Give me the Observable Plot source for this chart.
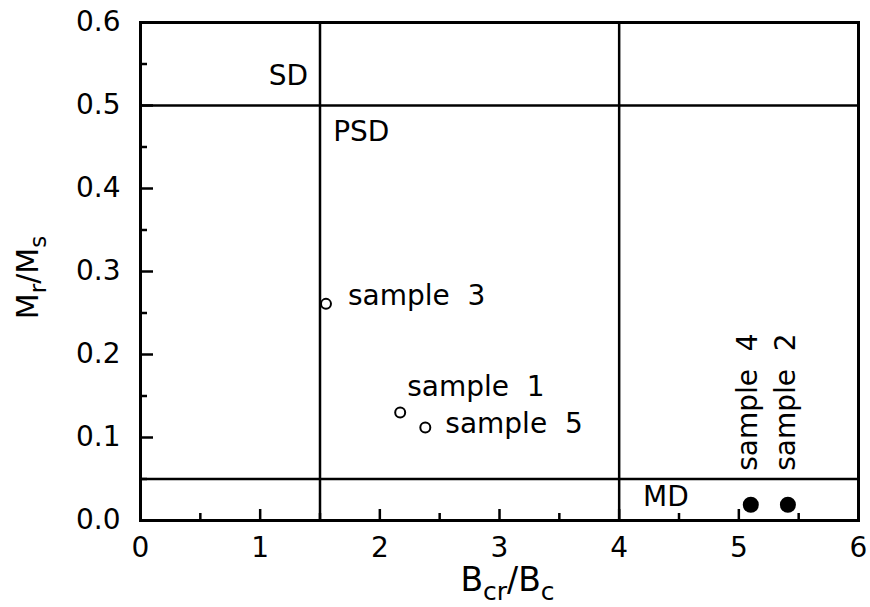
<!DOCTYPE html>
<html><head><meta charset="utf-8">
<script src="https://cdn.jsdelivr.net/npm/d3@7"></script>
<script src="https://cdn.jsdelivr.net/npm/@observablehq/plot@0.6"></script>
<style>
body{margin:0;background:#fff;}
#chart svg{font-family:"DejaVu Sans",sans-serif;}
</style></head><body><div id="chart"></div>
<script>
// ---- data ----
const samples = ["sample 1", "sample 2", "sample 3", "sample 4", "sample 5"];
const bcrBc   = [2.17, 5.41, 1.55, 5.10, 2.38];
const mrMs    = [0.130, 0.019, 0.261, 0.019, 0.112];
const filled  = [false, true, false, true, false];

const boundaryX = [1.5, 4];
const boundaryY = [0.05, 0.5];

const regionNames = ["SD", "PSD", "MD"];
const regionX = [1.40, 1.61, 4.20];
const regionY = [0.536, 0.468, 0.028];

const xTicks = [0, 1, 2, 3, 4, 5, 6];
const xMinorTicks = [0.5, 1.5, 2.5, 3.5, 4.5, 5.5];
const yTicks = [0, 0.1, 0.2, 0.3, 0.4, 0.5, 0.6];
const yMinorTicks = [0.05, 0.15, 0.25, 0.35, 0.45, 0.55];

const xTitle = [["B", false], ["cr", true], ["/B", false], ["c", true]];
const yTitle = [["M", false], ["r", true], ["/M", false], ["s", true]];

// ---- layout of sample labels (pixel offsets from their point) ----
const labelLayout = {
  "sample 3": {dx: 22, dy: -8, rotate: 0},
  "sample 1": {dx: 7, dy: -26, rotate: 0},
  "sample 5": {dx: 20, dy: -4, rotate: 0},
  "sample 4": {dx: -3, dy: -34, rotate: -90},
  "sample 2": {dx: -2, dy: -34, rotate: -90}
};

const rows = samples.map((s, i) => ({s, x: bcrBc[i], y: mrMs[i], f: filled[i]}));
const regions = regionNames.map((t, i) => ({t, x: regionX[i], y: regionY[i]}));
const show = s => s.replace(" ", "\u00a0\u00a0");

const FS = 28;
const labelMarks = rows.map(d => {
  const L = labelLayout[d.s];
  return Plot.text([d], {
    x: "x", y: "y", text: r => show(r.s),
    dx: L.dx, dy: L.dy, rotate: L.rotate,
    textAnchor: "start", lineAnchor: "middle",
    fontSize: FS, fill: "black", style: "letter-spacing:1.5px"
  });
});

const chart = Plot.plot({
  width: 870, height: 607,
  marginLeft: 140, marginRight: 12, marginTop: 22, marginBottom: 87,
  style: {background: "white", color: "black", fontFamily: "DejaVu Sans"},
  x: {domain: [0, 6], axis: null, label: null},
  y: {domain: [0, 0.6], axis: null, label: null},
  marks: [
    Plot.ruleX(boundaryX, {stroke: "black", strokeWidth: 2.5}),
    Plot.ruleY(boundaryY, {stroke: "black", strokeWidth: 2.5}),
    // inward ticks
    Plot.axisX({ticks: xTicks, label: null, tickSize: 11, dy: -11, strokeWidth: 2.5, tickFormat: () => ""}),
    Plot.axisX({ticks: xMinorTicks, label: null, tickSize: 7, dy: -7, strokeWidth: 2.5, tickFormat: () => ""}),
    Plot.axisY({ticks: yTicks, label: null, tickSize: 13, dx: 13, strokeWidth: 2.5, tickFormat: () => ""}),
    Plot.axisY({ticks: yMinorTicks, label: null, tickSize: 7, dx: 7, strokeWidth: 2.5, tickFormat: () => ""}),
    // tick labels
    Plot.axisX({ticks: xTicks, label: null, tickSize: 0, tickPadding: 17, fontSize: FS, tickFormat: d3.format("d"), fill: "black"}),
    Plot.axisY({ticks: yTicks, label: null, tickSize: 0, tickPadding: 20, fontSize: FS, tickFormat: d3.format(".1f"), fill: "black", style: "letter-spacing:1px"}),
    Plot.frame({stroke: "black", strokeWidth: 3}),
    // points
    Plot.dot(rows.filter(d => !d.f), {x: "x", y: "y", r: 5, stroke: "black", strokeWidth: 2, fill: "white"}),
    Plot.dot(rows.filter(d => d.f), {x: "x", y: "y", r: 8, fill: "black", stroke: "none"}),
    // region labels
    Plot.text(regions.filter(d => d.t === "SD"), {x: "x", y: "y", text: "t", textAnchor: "end", lineAnchor: "middle", fontSize: FS, fill: "black"}),
    Plot.text(regions.filter(d => d.t !== "SD"), {x: "x", y: "y", text: "t", textAnchor: "start", lineAnchor: "middle", fontSize: FS, fill: "black", style: "letter-spacing:1.5px"}),
    ...labelMarks,
    // axis titles (subscripts added below)
    Plot.text([xTitle.map(p => p[0]).join("")], {frameAnchor: "bottom", dx: 8, dy: 70, lineAnchor: "bottom", textAnchor: "middle", fontSize: 33, fill: "black"}),
    Plot.text([yTitle.map(p => p[0]).join("")], {frameAnchor: "left", dx: -103, dy: 6, rotate: -90, lineAnchor: "bottom", textAnchor: "middle", fontSize: 30, fill: "black", style: "letter-spacing:2px"})
  ]
});

function subscriptify(el, parts, size) {
  const t = d3.select(el);
  t.text(null);
  const shift = Math.round(size * 0.27);
  let prevSub = false;
  parts.forEach(([s, sub]) => {
    const ts = t.append("tspan").text(s);
    if (sub && !prevSub) ts.attr("dy", shift);
    if (!sub && prevSub) ts.attr("dy", -shift);
    if (sub) ts.attr("font-size", Math.round(size * 0.75));
    prevSub = sub;
  });
}
const xt = xTitle.map(p => p[0]).join(""), yt = yTitle.map(p => p[0]).join("");
d3.select(chart).selectAll("text").each(function() {
  if (this.textContent === xt) subscriptify(this, xTitle, 33);
  else if (this.textContent === yt) subscriptify(this, yTitle, 30);
});

document.getElementById("chart").appendChild(chart);
</script></body></html>
